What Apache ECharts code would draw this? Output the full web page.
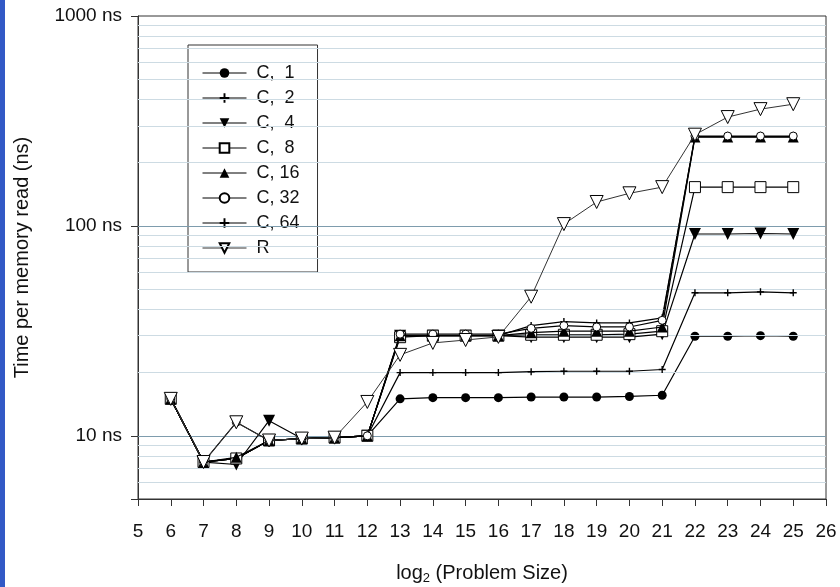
<!DOCTYPE html>
<html>
<head>
<meta charset="utf-8">
<script src="https://cdn.jsdelivr.net/npm/echarts@6/dist/echarts.min.js"></script>
<style>
  html, body { margin: 0; padding: 0; background: #fff; }
  #chart { width: 840px; height: 587px; }
</style>
</head>
<body>
<div id="chart"></div>
<script>
// log2 of the problem size (x axis)
const logSizes = [6, 7, 8, 9, 10, 11, 12, 13, 14, 15, 16, 17, 18, 19, 20, 21, 22, 23, 24, 25];

// Time per memory read, ns
const c1  = [15, 7.5, 7.8, 9.5, 9.7, 9.8, 10, 15, 15.2, 15.2, 15.2, 15.3, 15.3, 15.3, 15.4, 15.6, 29.8, 29.8, 30, 29.8];
const c2  = [15, 7.5, 7.8, 9.5, 9.7, 9.8, 10, 20, 20, 20, 20, 20.2, 20.3, 20.3, 20.3, 20.7, 48, 48, 48.5, 48];
const c4  = [15, 7.5, 7.3, 11.8, 9.7, 9.8, 10, 30, 30, 30, 30, 29.5, 29.5, 29.5, 29.5, 30.5, 91.5, 91.5, 92, 91.5];
const c8  = [15, 7.5, 7.8, 9.5, 9.7, 9.8, 10, 29.5, 30, 30, 30, 30.3, 30.3, 30.3, 30.5, 31.5, 153, 153, 153, 153];
const c16 = [15, 7.5, 7.9, 9.5, 9.7, 9.8, 10, 30, 30, 30, 30, 31, 31.5, 31.5, 31.5, 33, 265, 265, 265, 265];
const c32 = [15, 7.5, 11.6, 9.5, 9.7, 9.8, 10, 30.5, 30.5, 30.5, 30.5, 32.5, 33.5, 33, 33, 35.5, 268, 268, 268, 268];
const c64 = [15, 7.5, 7.8, 9.5, 9.7, 9.8, 10, 30, 30, 30, 30, 33.5, 35, 34.5, 34.5, 36.5, 266, 266, 266, 266];
const rnd = [15, 7.5, 11.6, 9.5, 9.7, 9.8, 14.5, 24.3, 27.7, 28.6, 29.6, 46, 102, 130, 143, 153, 272, 330, 360, 380];

const seriesNames = ['C,  1', 'C,  2', 'C,  4', 'C,  8', 'C, 16', 'C, 32', 'C, 64', 'R'];
const seriesValues = [c1, c2, c4, c8, c16, c32, c64, rnd];

// Horizontal reference lines on the log scale
const majorLines = [10, 100];
const minorLines = [6, 7, 8, 9, 20, 30, 40, 50, 60, 70, 80, 90, 200, 300, 400, 500, 600, 700, 800, 900];

const PLUS = 'path://M4,0L6,0L6,4L10,4L10,6L6,6L6,10L4,10L4,6L0,6L0,4L4,4Z';
const DOWN_TRI = 'path://M0,0L10,0L5,8.66Z';

// marker shape, size, fill and stacking order per series
const markerStyles = [
  { symbol: 'circle',   size: 9,  fill: '#000', z: 4 },
  { symbol: PLUS,       size: 7,  fill: '#000', z: 5 },
  { symbol: DOWN_TRI,   size: 12, fill: '#000', z: 6 },
  { symbol: 'rect',     size: 11, fill: '#fff', z: 7 },
  { symbol: 'triangle', size: 11, fill: '#000', z: 8 },
  { symbol: 'circle',   size: 8,  fill: '#fff', z: 9 },
  { symbol: PLUS,       size: 7,  fill: '#000', z: 3 },
  { symbol: DOWN_TRI,   size: 13, fill: '#fff', z: 10 }
];

const font = 'Liberation Sans, Arial, Helvetica, sans-serif';

const gridSeries = {
  name: 'grid-lines',
  type: 'line',
  data: [],
  z: 1,
  silent: true,
  markLine: {
    silent: true,
    symbol: ['none', 'none'],
    label: { show: false },
    animation: false,
    data: [
      ...minorLines.map(v => ({ yAxis: v, lineStyle: { color: '#cddbe3', width: 1.2, type: 'solid' } })),
      ...majorLines.map(v => ({ yAxis: v, lineStyle: { color: '#7e9cad', width: 1.2, type: 'solid' } }))
    ]
  }
};

const dataSeries = seriesNames.map((name, i) => {
  const m = markerStyles[i];
  return {
    name: name,
    type: 'line',
    z: m.z,
    data: logSizes.map((x, k) => [x, seriesValues[i][k]]),
    symbol: m.symbol,
    symbolSize: m.size,
    showAllSymbol: true,
    lineStyle: { color: i === 7 ? '#333' : '#000', width: i === 7 ? 1 : 1.2 },
    itemStyle: { color: m.fill, borderColor: '#000', borderWidth: m.fill === '#fff' ? 1 : 0 },
    emphasis: { disabled: true },
    animation: false
  };
});

const chart = echarts.init(document.getElementById('chart'), null, { renderer: 'canvas' });
chart.setOption({
  animation: false,
  backgroundColor: '#fff',
  textStyle: { fontFamily: font, color: '#111' },
  graphic: [{
    type: 'rect',
    left: 0, top: 0,
    shape: { width: 5, height: 587 },
    style: { fill: '#3259c6' },
    silent: true
  }],
  grid: {
    left: 138, right: 14, top: 16, bottom: 88,
    containLabel: false,
    outerBoundsMode: 'none',
    show: true, borderColor: '#333', borderWidth: 1, backgroundColor: 'transparent'
  },
  legend: {
    data: seriesNames,
    orient: 'vertical',
    left: 188,
    top: 45,
    width: 131,
    itemWidth: 44,
    itemHeight: 12,
    itemGap: 5,
    padding: [18, 18, 14, 14],
    backgroundColor: '#fff',
    borderColor: '#333',
    borderWidth: 1,
    borderRadius: 0,
    selectedMode: false,
    lineStyle: { width: 1 },
    textStyle: { fontFamily: font, fontSize: 18, color: '#111', lineHeight: 20, padding: [0, 0, 0, 5] }
  },
  xAxis: {
    type: 'value',
    min: 5,
    max: 26,
    interval: 1,
    splitLine: { show: false },
    axisLine: { show: true, onZero: false, lineStyle: { color: '#333', width: 1 } },
    axisTick: { show: true, inside: false, length: 7, lineStyle: { color: '#333' } },
    axisLabel: { fontFamily: font, fontSize: 19, color: '#111', margin: 23 },
    name: '{t|log}{s|2}{t| (Problem Size)}',
    nameLocation: 'middle',
    nameGap: 62,
    nameTextStyle: {
      rich: {
        t: { fontFamily: font, fontSize: 20, color: '#111' },
        s: { fontFamily: font, fontSize: 13, color: '#111', verticalAlign: 'bottom', padding: [11, 0, 0, 0] }
      }
    }
  },
  yAxis: {
    type: 'log',
    logBase: 10,
    min: 5,
    max: 1000,
    splitLine: { show: false },
    axisLine: { show: true, onZero: false, lineStyle: { color: '#333', width: 1 } },
    axisTick: { show: true, inside: false, length: 7, lineStyle: { color: '#333' } },
    axisLabel: {
      fontFamily: font, fontSize: 19, color: '#111', margin: 16,
      formatter: v => {
        const r = Math.round(v);
        return (r === 10 || r === 100 || r === 1000) && Math.abs(v - r) < 1e-6 ? r + ' ns' : '';
      }
    },
    name: 'Time per memory read (ns)',
    nameLocation: 'middle',
    nameGap: 106,
    nameTextStyle: { fontFamily: font, fontSize: 20, color: '#111' }
  },
  series: [gridSeries, ...dataSeries]
});
</script>
</body>
</html>
